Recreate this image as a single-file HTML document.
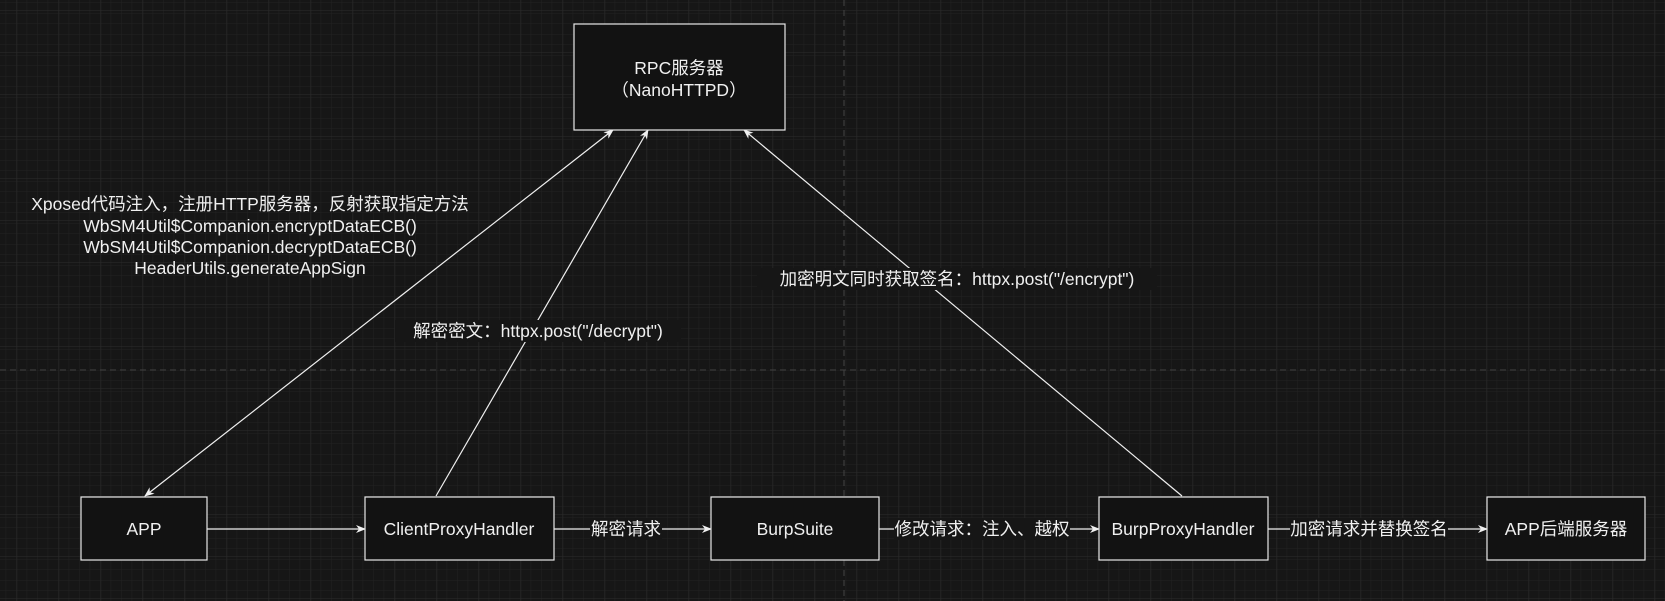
<!DOCTYPE html>
<html><head><meta charset="utf-8"><style>
html,body{margin:0;padding:0;background:#161616;}
svg{display:block}
text{font-family:"Liberation Sans","Noto Sans CJK SC",sans-serif;fill:#f0f0f0;font-size:17.5px;text-anchor:middle;dominant-baseline:central}
</style></head><body>
<svg width="1665" height="601" viewBox="0 0 1665 601" xmlns="http://www.w3.org/2000/svg">
<defs>
<pattern id="minor" width="10.5" height="10.5" patternUnits="userSpaceOnUse" x="6.2" y="3">
<path d="M10.5 0V10.5M0 10.5H10.5" stroke="#222" stroke-width="1" fill="none"/>
</pattern>
<pattern id="major" width="42" height="42" patternUnits="userSpaceOnUse" x="16.7" y="10">
<path d="M0 0V42M0 0H42" stroke="#2c2c2c" stroke-width="1" fill="none"/>
</pattern>
<marker id="ah" markerWidth="10" markerHeight="10" refX="9" refY="5" orient="auto" markerUnits="userSpaceOnUse">
<path d="M0,1 L10,5 L0,9 L3,5 z" fill="#f0f0f0"/>
</marker>
<marker id="ahs" markerWidth="10" markerHeight="10" refX="1" refY="5" orient="auto" markerUnits="userSpaceOnUse">
<path d="M10,1 L0,5 L10,9 L7,5 z" fill="#f0f0f0"/>
</marker>
</defs>
<rect width="1665" height="601" fill="#161616"/>
<rect width="1665" height="601" fill="url(#minor)"/>
<rect width="1665" height="601" fill="url(#major)"/>
<line x1="844" y1="0" x2="844" y2="601" stroke="#444" stroke-dasharray="6,4"/>
<line x1="0" y1="370" x2="1665" y2="370" stroke="#444" stroke-dasharray="6,4"/>

<g stroke="#f0f0f0" stroke-width="1.2" fill="none">
<line x1="145" y1="496" x2="613" y2="130" marker-start="url(#ahs)" marker-end="url(#ah)"/>
<line x1="436" y1="496" x2="648" y2="130" marker-end="url(#ah)"/>
<line x1="1182" y1="496" x2="744" y2="130" marker-end="url(#ah)"/>
<line x1="207" y1="529" x2="365" y2="529" marker-end="url(#ah)"/>
<line x1="554" y1="529" x2="711" y2="529" marker-end="url(#ah)"/>
<line x1="879" y1="529" x2="1099" y2="529" marker-end="url(#ah)"/>
<line x1="1268" y1="529" x2="1487" y2="529" marker-end="url(#ah)"/>
</g>

<g fill="#121212" stroke="#e8e8e8" stroke-width="1.2">
<rect x="574" y="24" width="211" height="106"/>
<rect x="81" y="497" width="126" height="63"/>
<rect x="365" y="497" width="189" height="63"/>
<rect x="711" y="497" width="168" height="63"/>
<rect x="1099" y="497" width="169" height="63"/>
<rect x="1487" y="497" width="158" height="63"/>
</g>
<text x="679" y="68">RPC服务器</text>
<text x="679" y="90">（NanoHTTPD）</text>
<text x="144" y="529">APP</text>
<text x="459" y="529">ClientProxyHandler</text>
<text x="795" y="529">BurpSuite</text>
<text x="1183" y="529">BurpProxyHandler</text>
<text x="1566" y="529">APP后端服务器</text>

<g>
<rect x="590" y="518" width="72" height="22" fill="#161616"/>
<text x="626" y="529">解密请求</text>
<rect x="894" y="518" width="176" height="22" fill="#161616"/>
<text x="982" y="529">修改请求：注入、越权</text>
<rect x="1290" y="518" width="158" height="22" fill="#161616"/>
<text x="1369" y="529">加密请求并替换签名</text>
</g>

<text x="250" y="204">Xposed代码注入，注册HTTP服务器，反射获取指定方法</text>
<text x="250" y="226">WbSM4Util$Companion.encryptDataECB()</text>
<text x="250" y="247">WbSM4Util$Companion.decryptDataECB()</text>
<text x="250" y="268">HeaderUtils.generateAppSign</text>

<rect x="395" y="320" width="286" height="22" fill="#161616"/>
<text x="538" y="331">解密密文：httpx.post("/decrypt")</text>
<rect x="757" y="268" width="400" height="22" fill="#161616"/>
<text x="957" y="279">加密明文同时获取签名：httpx.post("/encrypt")</text>
</svg>
</body></html>
